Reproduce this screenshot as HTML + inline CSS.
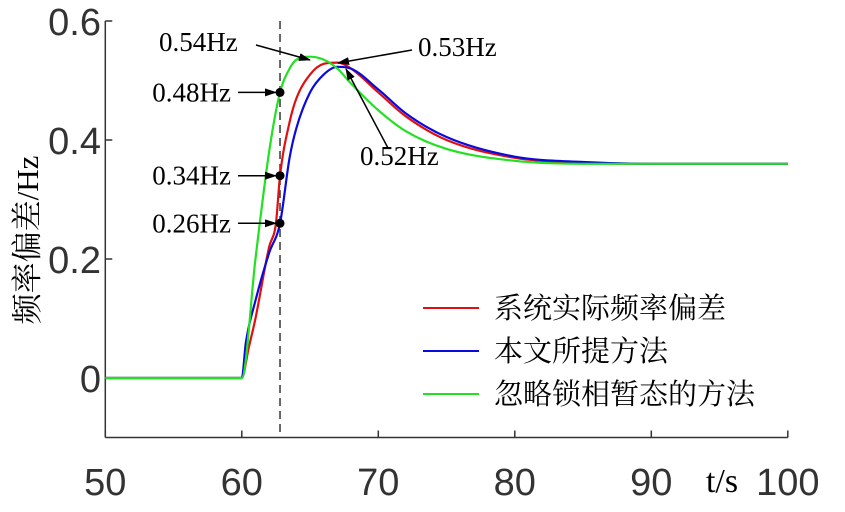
<!DOCTYPE html>
<html><head><meta charset="utf-8"><style>
html,body{margin:0;padding:0;background:#fff;}
svg text{font-family:"Liberation Serif","Noto Serif CJK SC",serif;}
.tk{font-family:"Liberation Sans",sans-serif;font-size:38px;fill:#333;}
.ann{font-size:27px;fill:#000;}
.leg{font-size:29px;fill:#000;font-family:"Liberation Serif","Noto Serif CJK SC",serif;}
</style></head><body>
<svg id="chart" width="845" height="507" xmlns="http://www.w3.org/2000/svg">
<defs><marker id="ah" markerWidth="12" markerHeight="8" refX="11" refY="4" orient="auto" markerUnits="userSpaceOnUse"><path d="M0,0 L12,4 L0,8 z" fill="#000"/></marker></defs>
<g id="grid"></g>
<g id="series"></g>
<g id="annot"></g>
</svg>
<script>
const xTicks=[50,60,70,80,90,100];
const yTicks=[0,0.2,0.4,0.6];
const yTickLabels=["0","0.2","0.4","0.6"];
const tRed=[50,60,60.5,61,62,62.5,62.8,63.5,64,65,66,67,68,70,72,75,80,85,90,100];
const vRed=[0,0,0.05,0.1,0.22,0.26,0.34,0.43,0.47,0.51,0.528,0.53,0.52,0.48,0.44,0.4,0.37,0.362,0.36,0.36];
const tBlue=[50,60,60.3,61,62,62.8,63.5,64,65,66,67,68,70,72,75,80,85,90,100];
const vBlue=[0,0,0.06,0.13,0.21,0.26,0.37,0.42,0.48,0.51,0.523,0.52,0.485,0.445,0.405,0.372,0.363,0.36,0.36];
const tGreen=[50,60,61,62,62.8,63.5,64,65,66,67,68,70,72,75,80,85,100];
const vGreen=[0,0,0.2,0.38,0.48,0.52,0.535,0.54,0.535,0.52,0.495,0.45,0.415,0.385,0.365,0.36,0.36];
const markT=62.8;
const markVals=[0.48,0.34,0.26];
const markLabels=["0.48Hz","0.34Hz","0.26Hz"];
const peakLabels=["0.54Hz","0.53Hz","0.52Hz"];
const legendLabels=["系统实际频率偏差","本文所提方法","忽略锁相暂态的方法"];

const NS="http://www.w3.org/2000/svg";
const X=t=>105.3+(t-50)*13.65;
const Y=v=>378-v*595;
function mk(tag,attrs,parent,text){const e=document.createElementNS(NS,tag);for(const k in attrs)e.setAttribute(k,attrs[k]);if(text!==undefined)e.textContent=text;parent.appendChild(e);return e;}
const grid=document.getElementById('grid'),ser=document.getElementById('series'),ann=document.getElementById('annot');
let a=mk('line',{x1:X(50),y1:Y(-0.1),x2:X(100),y2:Y(-0.1),stroke:'#333','stroke-width':1.5},grid);


a=mk('line',{x1:X(50),y1:Y(-0.1),x2:X(50),y2:Y(0.6),stroke:'#333','stroke-width':1.5},grid);


xTicks.forEach(t=>{
 const l=mk('line',{x1:X(t),y1:Y(-0.1),x2:X(t),y2:Y(-0.1)-7,stroke:'#333','stroke-width':1.5},grid);
 
 
 const tx=mk('text',{x:X(t),y:495,'text-anchor':'middle',class:'tk'},grid,String(t));
 
 
});
yTicks.forEach((v,i)=>{
 const l=mk('line',{x1:X(50),y1:Y(v),x2:X(50)+7,y2:Y(v),stroke:'#333','stroke-width':1.5},grid);
 
 
 const tx=mk('text',{x:101,y:Y(v)+14,'text-anchor':'end',class:'tk'},grid,yTickLabels[i]);
 
 
});
let t=mk('text',{x:722,y:492,'text-anchor':'middle','font-size':34,fill:'#000'},grid,'t/s');


t=mk('text',{x:0,y:0,transform:'translate(38,240) rotate(-90)','text-anchor':'middle','font-size':31,fill:'#000'},grid,'频率偏差/Hz');


t=mk('line',{x1:X(markT),y1:Y(0.6),x2:X(markT),y2:Y(-0.1),stroke:'#444','stroke-width':1.6,'stroke-dasharray':'8,5'},grid);



function monotone(ts,vs){
 const n=ts.length,d=[],m=new Array(n);
 for(let i=0;i<n-1;i++)d.push((vs[i+1]-vs[i])/(ts[i+1]-ts[i]));
 m[0]=d[0];m[n-1]=d[n-2];
 for(let i=1;i<n-1;i++){m[i]=(d[i-1]*d[i]<=0)?0:(d[i-1]+d[i])/2;}
 for(let i=0;i<n-1;i++){if(d[i]===0){m[i]=0;m[i+1]=0;continue;}
  const al=m[i]/d[i],be=m[i+1]/d[i],s=al*al+be*be;
  if(s>9){const k=3/Math.sqrt(s);m[i]=k*al*d[i];m[i+1]=k*be*d[i];}}
 let p=`M${X(ts[0])},${Y(vs[0])}`;
 for(let i=0;i<n-1;i++){const h=ts[i+1]-ts[i];
  const c1t=ts[i]+h/3,c1v=vs[i]+m[i]*h/3,c2t=ts[i+1]-h/3,c2v=vs[i+1]-m[i+1]*h/3;
  p+=` C${X(c1t)},${Y(c1v)} ${X(c2t)},${Y(c2v)} ${X(ts[i+1])},${Y(vs[i+1])}`;}
 return p;}
const S=[[tRed,vRed,'#e01010','series-red-actual'],[tBlue,vBlue,'#0a0ae0','series-blue-proposed'],[tGreen,vGreen,'#22e022','series-green-ignore-pll']];
S.forEach(s=>{const p=mk('path',{d:monotone(s[0],s[1]),fill:'none',stroke:s[2],'stroke-width':2.2},ser);
 
 });
markVals.forEach((v,i)=>{
 const c=mk('circle',{cx:X(markT),cy:Y(v),r:4.5,fill:'#000'},ann);
 
 
 const l=mk('line',{x1:238,y1:Y(v),x2:X(markT)-4,y2:Y(v),stroke:'#000','stroke-width':1.5,'marker-end':'url(#ah)'},ann);
 
 
 const tx=mk('text',{x:231,y:Y(v)+9,'text-anchor':'end',class:'ann'},ann,markLabels[i]);
 
 
});
const peaks=[[159,51,256,45,310,60],[418,56,412,50,338,63],[360,165,388,148,346,69]];
peaks.forEach((p,i)=>{
 const tx=mk('text',{x:p[0],y:p[1],class:'ann'},ann,peakLabels[i]);
 
 
 const l=mk('line',{x1:p[2],y1:p[3],x2:p[4],y2:p[5],stroke:'#000','stroke-width':1.5,'marker-end':'url(#ah)'},ann);
 
 
});
const legCols=['#e01010','#0a0ae0','#22e022'];
legendLabels.forEach((lb,i)=>{
 const y=308+i*43;
 const l=mk('line',{x1:423,y1:y,x2:479,y2:y,stroke:legCols[i],'stroke-width':2},ann);
 
 
 const tx=mk('text',{x:494,y:y+10,class:'leg'},ann,lb);
 
 
});
</script>
</body></html>
